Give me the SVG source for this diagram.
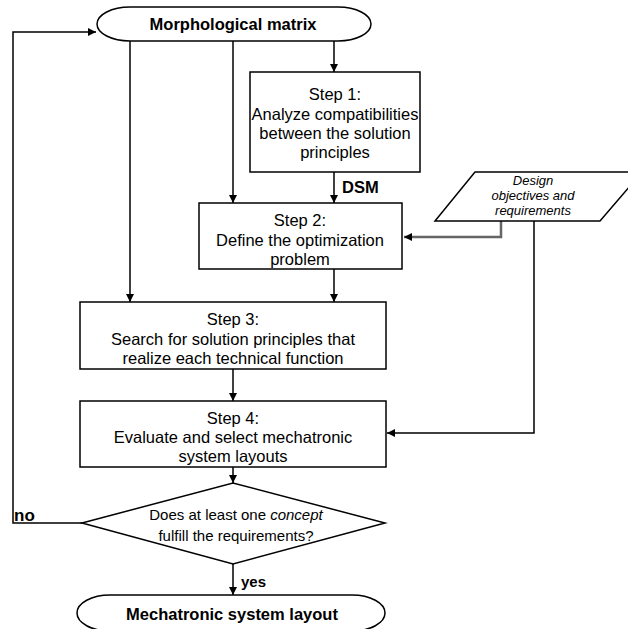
<svg xmlns="http://www.w3.org/2000/svg" width="628" height="629" viewBox="0 0 628 629">
<defs>
<marker id="ah" viewBox="0 0 10 10" refX="10" refY="5" markerWidth="9" markerHeight="8" markerUnits="userSpaceOnUse" orient="auto">
<path d="M0,0 L10,5 L0,10 Z" fill="#000"/>
</marker>
<style>
.box{fill:#fff;stroke:#000;stroke-width:1.5}
.t{font-family:"Liberation Sans",Arial,sans-serif;font-size:16.5px;fill:#000;text-anchor:middle}
.b{font-family:"Liberation Sans",Arial,sans-serif;font-size:16.5px;font-weight:bold;fill:#000}
.i{font-family:"Liberation Sans",Arial,sans-serif;font-size:13px;font-style:italic;fill:#000;text-anchor:middle}
.c{fill:none;stroke:#000;stroke-width:1.5}
.g{fill:none;stroke:#666;stroke-width:2.5}
</style>
</defs>
<rect width="628" height="629" fill="#fff"/>
<g id="connectors">
<path class="c" d="M82,523 H13 V32 H96" marker-end="url(#ah)"/>
<path class="c" d="M130,41 V302" marker-end="url(#ah)"/>
<path class="c" d="M233,41 V203" marker-end="url(#ah)"/>
<path class="c" d="M334,41 V72" marker-end="url(#ah)"/>
<path class="c" d="M334,172 V203" marker-end="url(#ah)"/>
<path class="c" d="M334,269 V302" marker-end="url(#ah)"/>
<path class="c" d="M233,369 V401" marker-end="url(#ah)"/>
<path class="c" d="M233,467 V483" marker-end="url(#ah)"/>
<path class="c" d="M233,564 V595" marker-end="url(#ah)"/>
<path class="g" d="M501,221 V237 H404" marker-end="url(#ah)"/>
<path class="c" d="M534,221 V433 H387" marker-end="url(#ah)"/>
<text class="b" x="342" y="193">DSM</text>
<text class="b" x="14" y="521" style="font-size:17px">no</text>
<text class="b" x="241" y="587" style="font-size:15px">yes</text>
</g>
<g id="morph">
<path class="box" d="M130,7 H338 A33,17 0 0 1 338,41 H130 A33,17 0 0 1 130,7 Z"/>
<text class="b" x="233" y="30" text-anchor="middle">Morphological matrix</text>
</g>
<g id="step1">
<rect class="box" x="250" y="72" width="170" height="100"/>
<text class="t" x="335" y="100">Step 1:</text>
<text class="t" x="335" y="120">Analyze compatibilities</text>
<text class="t" x="335" y="139">between the solution</text>
<text class="t" x="335" y="158">principles</text>
</g>
<g id="design">
<polygon class="box" points="475,172 642,172 600,221 435,221"/>
<text class="i" x="533" y="185">Design</text>
<text class="i" x="533" y="200">objectives and</text>
<text class="i" x="533" y="215">requirements</text>
</g>
<g id="step2">
<rect class="box" x="199" y="203" width="203" height="66"/>
<text class="t" x="300" y="226">Step 2:</text>
<text class="t" x="300" y="246">Define the optimization</text>
<text class="t" x="300" y="265">problem</text>
</g>
<g id="step3">
<rect class="box" x="80" y="302" width="306" height="67"/>
<text class="t" x="233" y="325">Step 3:</text>
<text class="t" x="233" y="345">Search for solution principles that</text>
<text class="t" x="233" y="364">realize each technical function</text>
</g>
<g id="step4">
<rect class="box" x="80" y="401" width="306" height="66"/>
<text class="t" x="233" y="424">Step 4:</text>
<text class="t" x="233" y="443">Evaluate and select mechatronic</text>
<text class="t" x="233" y="462">system layouts</text>
</g>
<g id="decision">
<polygon class="box" points="82,523 233,483 385,523 233,564"/>
<text class="t" x="236" y="520" style="font-size:15px">Does at least one <tspan font-style="italic">concept</tspan></text>
<text class="t" x="236" y="541" style="font-size:15px">fulfill the requirements?</text>
</g>
<g id="result">
<path class="box" d="M110,595 H352 A33,18 0 0 1 352,631 H110 A33,18 0 0 1 110,595 Z"/>
<text class="b" x="232" y="620" text-anchor="middle">Mechatronic system layout</text>
</g>
</svg>
